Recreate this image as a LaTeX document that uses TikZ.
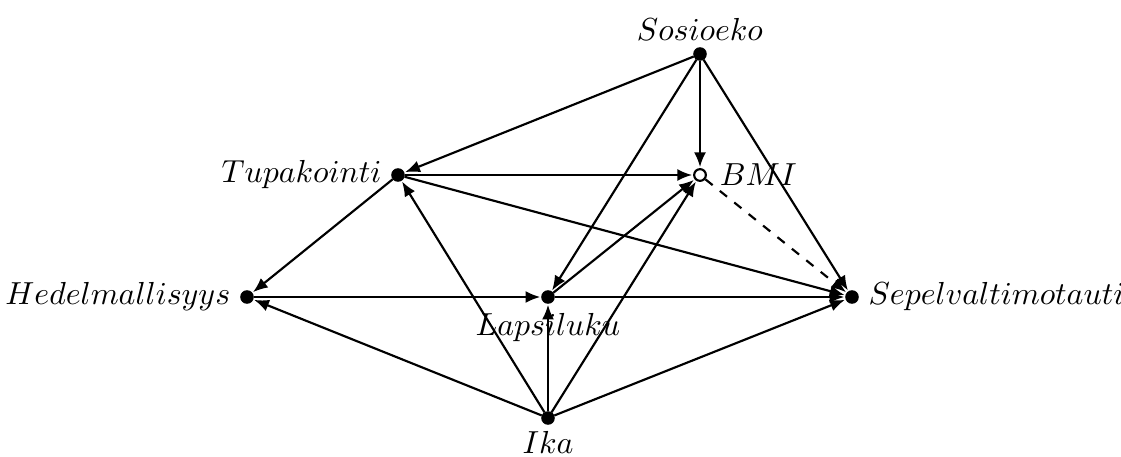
\documentclass[tikz,border=0pt]{standalone}
\usetikzlibrary{arrows.meta}
\newcommand{\varlabel}[1]{\scalebox{1.035}{$#1$}}
\begin{document}
\begin{tikzpicture}[x=0.01141cm, y=-0.01141cm,
  var/.style={circle, fill=black, draw=black, inner sep=0pt, minimum size=4pt},
  latent/.style={circle, fill=white, draw=black, line width=0.7pt, inner sep=0pt, minimum size=3.8pt},
  edge/.style={line width=0.7pt, -{Latex[length=4.8pt,width=3.9pt]}, shorten >=0.3pt},
  every label/.style={inner sep=3pt}]
\useasboundingbox (0,0) rectangle (1121,457);
% variables
\node[var, label={[yshift=-1pt]above:\varlabel{Sosioeko}}] (so) at (700,54) {};
\node[latent, label={[label distance=1pt]right:\varlabel{BMI}}] (bmi) at (700,175) {};
\node[var, label={left:\varlabel{Tupakointi}}] (tu) at (398,175) {};
\node[var, label={left:\varlabel{Hedelmallisyys}}] (he) at (247,297) {};
\node[var, label={below:\varlabel{Lapsiluku}}] (la) at (548,297) {};
\node[var, label={right:\varlabel{Sepelvaltimotauti}}] (se) at (852,297) {};
\node[var, label={[yshift=1pt]below:\varlabel{Ika}}] (ik) at (548,418) {};
% causal paths
\draw[edge] (so) -- (tu);
\draw[edge] (so) -- (bmi);
\draw[edge] (so) -- (la);
\draw[edge] (so) -- (se);
\draw[edge] (tu) -- (bmi);
\draw[edge] (tu) -- (se);
\draw[edge] (tu) -- (he);
\draw[edge] (he) -- (la);
\draw[edge] (la) -- (bmi);
\draw[edge] (la) -- (se);
\draw[edge, dashed] (bmi) -- (se);
\draw[edge] (ik) -- (he);
\draw[edge] (ik) -- (tu);
\draw[edge] (ik) -- (la);
\draw[edge] (ik) -- (bmi);
\draw[edge] (ik) -- (se);
\end{tikzpicture}
\end{document}
